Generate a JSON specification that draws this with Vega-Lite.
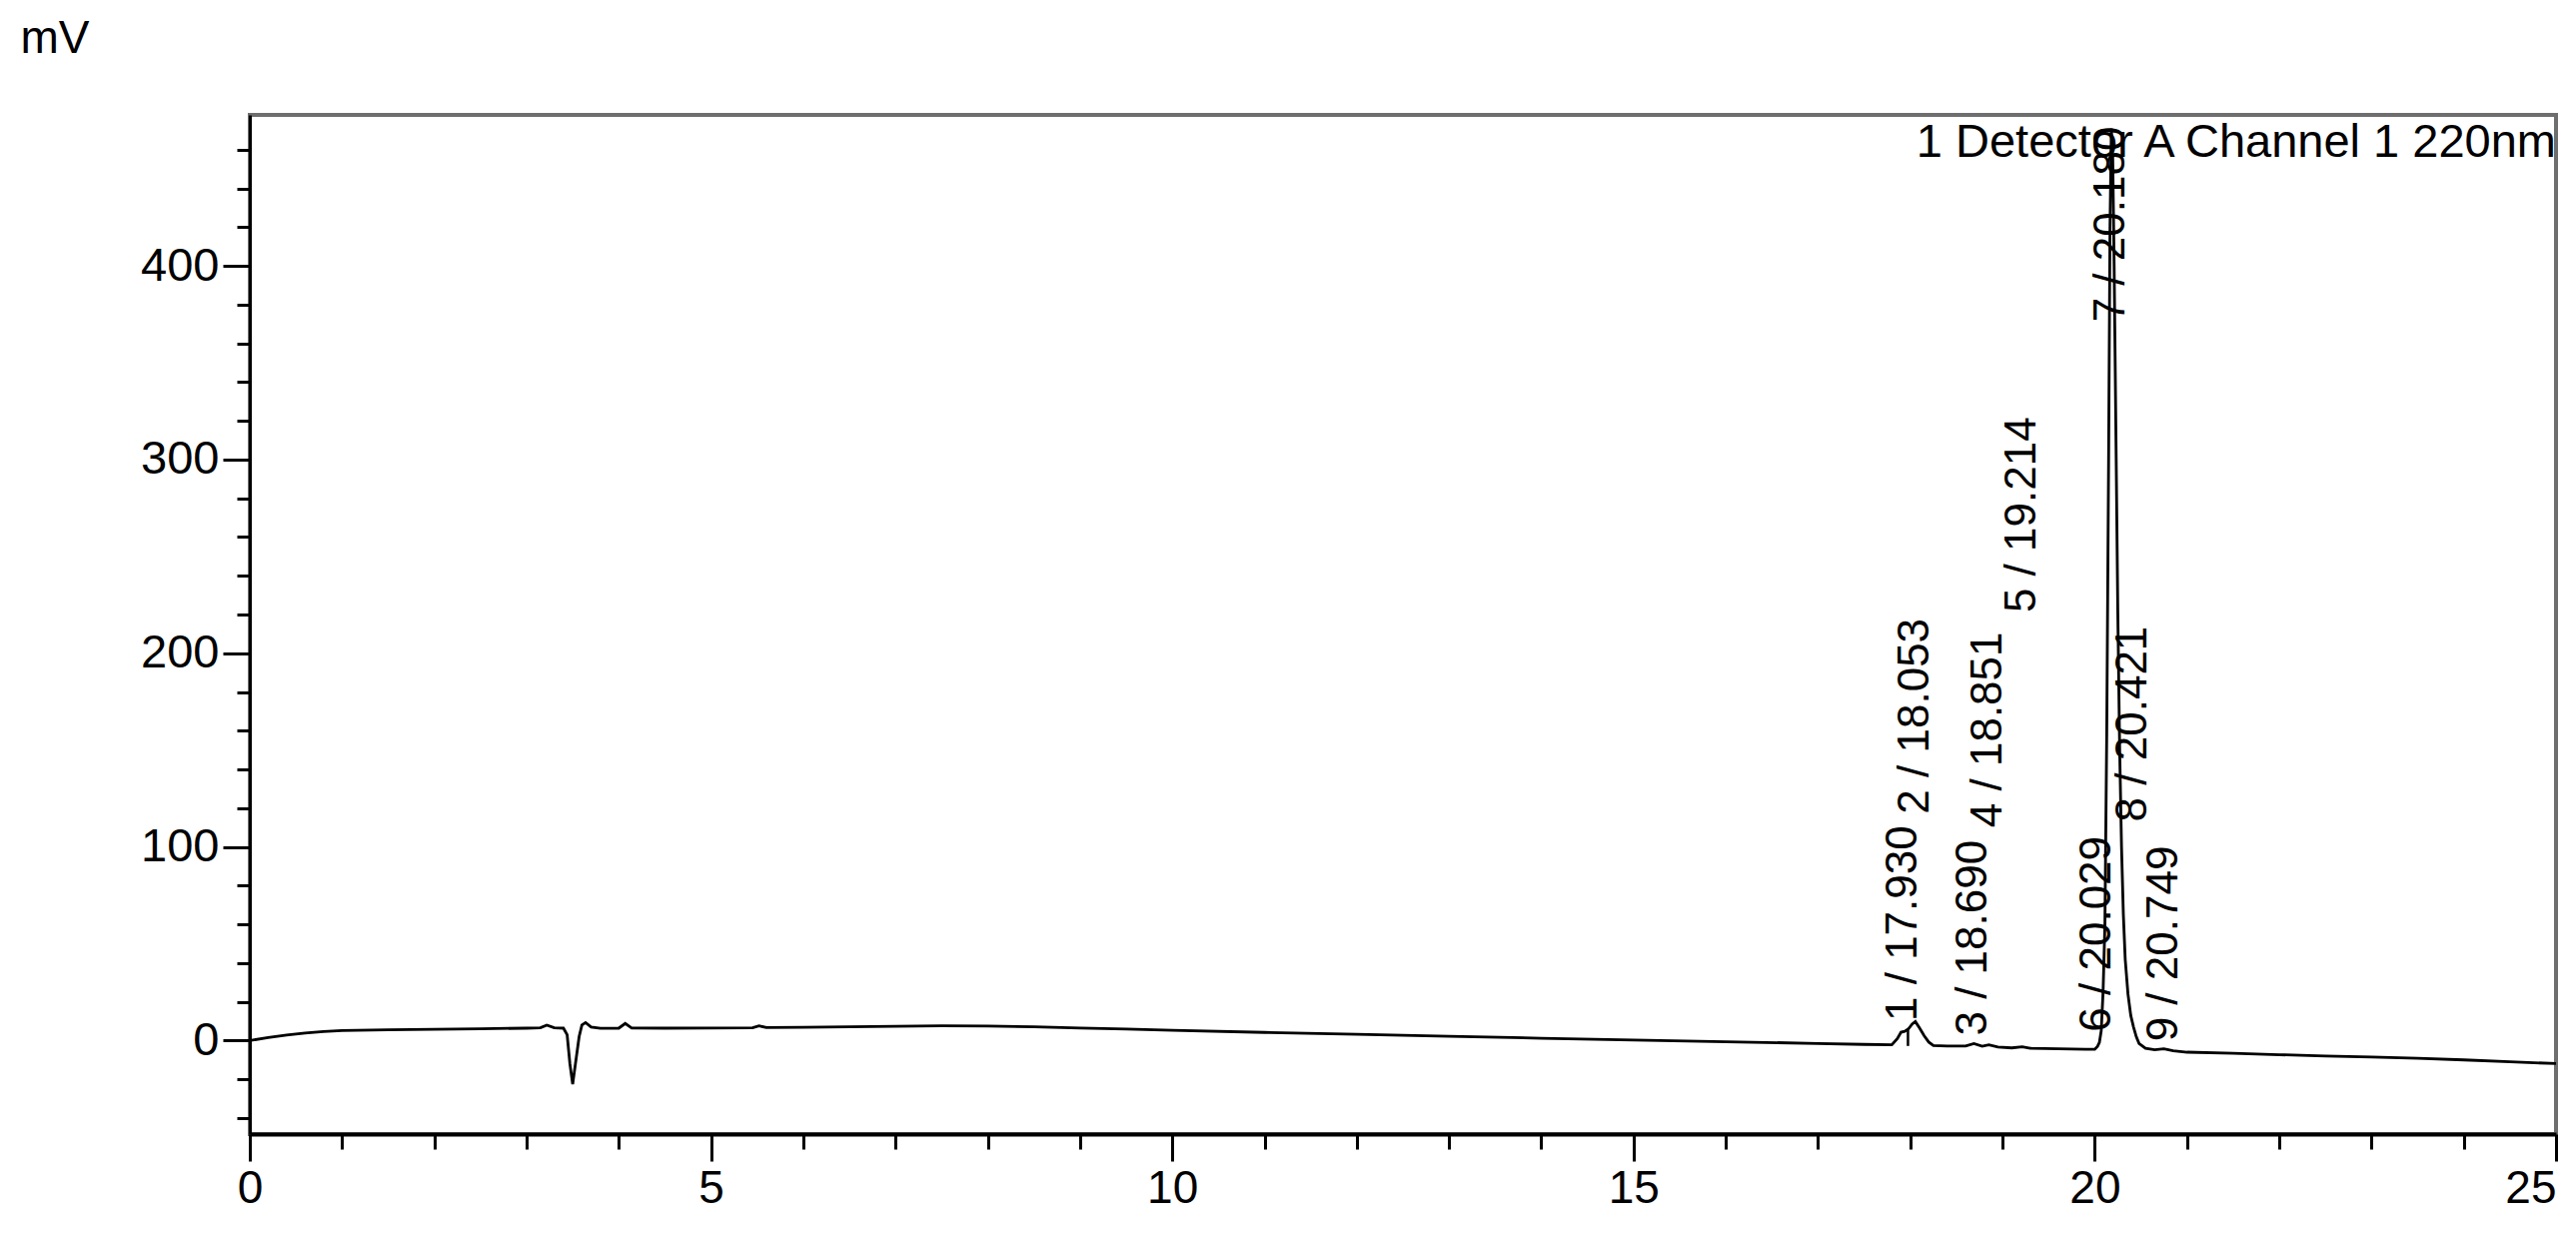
{
  "$schema": "https://vega.github.io/schema/vega-lite/v6.json",
  "width": 2308,
  "height": 1020,
  "autosize": {"type": "none"},
  "padding": {"left": 250, "top": 115, "right": 20, "bottom": 109},
  "background": "white",
  "config": {
    "view": {"stroke": "#6e6e6e", "strokeWidth": 4},
    "font": "Liberation Sans",
    "text": {"font": "Liberation Sans"}
  },
  "layer": [
    {
      "data": {
        "values": [
          {"t": 0, "mV": 0}, {"t": 0.2, "mV": 1.5}, {"t": 0.4, "mV": 2.8}, {"t": 0.6, "mV": 3.9},
          {"t": 0.8, "mV": 4.7}, {"t": 1.0, "mV": 5.2}, {"t": 1.5, "mV": 5.6}, {"t": 2.0, "mV": 5.8},
          {"t": 2.5, "mV": 6.1}, {"t": 3.0, "mV": 6.4}, {"t": 3.15, "mV": 6.6}, {"t": 3.22, "mV": 8.0},
          {"t": 3.3, "mV": 6.6}, {"t": 3.4, "mV": 6.4}, {"t": 3.44, "mV": 3}, {"t": 3.47, "mV": -12},
          {"t": 3.5, "mV": -22.5}, {"t": 3.53, "mV": -12}, {"t": 3.57, "mV": 2}, {"t": 3.6, "mV": 8},
          {"t": 3.64, "mV": 9.3}, {"t": 3.7, "mV": 7}, {"t": 3.8, "mV": 6.3}, {"t": 4.0, "mV": 6.4},
          {"t": 4.07, "mV": 8.8}, {"t": 4.14, "mV": 6.5}, {"t": 4.5, "mV": 6.4}, {"t": 5.0, "mV": 6.5},
          {"t": 5.45, "mV": 6.6}, {"t": 5.52, "mV": 7.6}, {"t": 5.6, "mV": 6.7}, {"t": 6.0, "mV": 6.8},
          {"t": 6.5, "mV": 7.1}, {"t": 7.0, "mV": 7.4}, {"t": 7.5, "mV": 7.6}, {"t": 8.0, "mV": 7.5},
          {"t": 8.5, "mV": 7.1}, {"t": 9.0, "mV": 6.5}, {"t": 9.5, "mV": 5.9}, {"t": 10.0, "mV": 5.3},
          {"t": 11.0, "mV": 4.2}, {"t": 12.0, "mV": 3.2}, {"t": 13.0, "mV": 2.2}, {"t": 14.0, "mV": 1.2},
          {"t": 15.0, "mV": 0.3}, {"t": 16.0, "mV": -0.6}, {"t": 17.0, "mV": -1.5}, {"t": 17.5, "mV": -2.0},
          {"t": 17.8, "mV": -2.2}, {"t": 17.86, "mV": 1}, {"t": 17.9, "mV": 4.3}, {"t": 17.94, "mV": 4.8},
          {"t": 17.98, "mV": 6}, {"t": 18.02, "mV": 8.5}, {"t": 18.055, "mV": 9.8}, {"t": 18.1, "mV": 6.5},
          {"t": 18.15, "mV": 2.5}, {"t": 18.2, "mV": -0.8}, {"t": 18.25, "mV": -2.6}, {"t": 18.4, "mV": -2.8},
          {"t": 18.6, "mV": -2.8}, {"t": 18.69, "mV": -1.6}, {"t": 18.78, "mV": -2.9}, {"t": 18.851, "mV": -2.2},
          {"t": 18.95, "mV": -3.4}, {"t": 19.1, "mV": -3.8}, {"t": 19.214, "mV": -3.2}, {"t": 19.3, "mV": -4.0},
          {"t": 19.6, "mV": -4.3}, {"t": 19.9, "mV": -4.5}, {"t": 20.0, "mV": -4.5}, {"t": 20.03, "mV": -3.0},
          {"t": 20.05, "mV": -1}, {"t": 20.07, "mV": 5}, {"t": 20.09, "mV": 25}, {"t": 20.11, "mV": 60},
          {"t": 20.13, "mV": 160}, {"t": 20.15, "mV": 300}, {"t": 20.165, "mV": 420}, {"t": 20.18, "mV": 471},
          {"t": 20.195, "mV": 455}, {"t": 20.21, "mV": 400}, {"t": 20.23, "mV": 310}, {"t": 20.25, "mV": 220},
          {"t": 20.27, "mV": 150}, {"t": 20.29, "mV": 100}, {"t": 20.31, "mV": 65}, {"t": 20.33, "mV": 42},
          {"t": 20.36, "mV": 24}, {"t": 20.39, "mV": 13}, {"t": 20.42, "mV": 7}, {"t": 20.45, "mV": 2},
          {"t": 20.48, "mV": -1.5}, {"t": 20.55, "mV": -4}, {"t": 20.65, "mV": -4.8}, {"t": 20.749, "mV": -4.3},
          {"t": 20.85, "mV": -5.3}, {"t": 21.0, "mV": -6.0}, {"t": 21.5, "mV": -6.6}, {"t": 22.0, "mV": -7.3},
          {"t": 22.5, "mV": -8.0}, {"t": 23.0, "mV": -8.5}, {"t": 23.5, "mV": -9.2}, {"t": 24.0, "mV": -10.0},
          {"t": 24.5, "mV": -11.0}, {"t": 25.0, "mV": -11.9}
        ]
      },
      "mark": {"type": "line", "color": "black", "strokeWidth": 2.8, "clip": true},
      "encoding": {
        "x": {
          "field": "t", "type": "quantitative",
          "scale": {"domain": [0, 25], "nice": false, "zero": false},
          "axis": {
            "title": null, "grid": false, "format": "d",
            "values": [0,1,2,3,4,5,6,7,8,9,10,11,12,13,14,15,16,17,18,19,20,21,22,23,24,25],
            "labelExpr": "datum.value % 5 === 0 ? datum.label : ''",
            "tickSize": {"condition": {"test": "datum.value % 5 === 0", "value": 27}, "value": 15},
            "labelPadding": 5,
            "labelAlign": {"condition": {"test": "datum.value === 25", "value": "right"}, "value": "center"},
            "labelFlush": false, "labelOverlap": false,
            "labelFontSize": 46, "labelColor": "black", "labelFont": "Liberation Sans",
            "domainColor": "black", "domainWidth": 4, "tickColor": "black", "tickWidth": 3
          }
        },
        "y": {
          "field": "mV", "type": "quantitative",
          "scale": {"domain": [-48.3, 478], "nice": false, "zero": false},
          "axis": {
            "title": "mV", "titleAngle": 0, "titleAlign": "left", "titleBaseline": "alphabetic",
            "titleX": -230, "titleY": -63, "titleFontSize": 46, "titleFontWeight": "normal",
            "titleColor": "black", "titleFont": "Liberation Sans",
            "grid": false,
            "values": [-40,-20,0,20,40,60,80,100,120,140,160,180,200,220,240,260,280,300,320,340,360,380,400,420,440,460],
            "labelExpr": "datum.value % 100 === 0 ? datum.label : ''",
            "tickSize": {"condition": {"test": "datum.value % 100 === 0", "value": 27}, "value": 13},
            "labelPadding": 4,
            "labelOverlap": false, "labelFlush": false,
            "labelFontSize": 47, "labelColor": "black", "labelFont": "Liberation Sans",
            "domainColor": "black", "domainWidth": 3, "tickColor": "black", "tickWidth": 3
          }
        }
      }
    },
    {
      "data": {"values": [{"t": 17.975, "lo": -2.8, "hi": 5.6}]},
      "mark": {"type": "rule", "color": "black", "strokeWidth": 2.5},
      "encoding": {
        "x": {"field": "t", "type": "quantitative"},
        "y": {"field": "lo", "type": "quantitative"},
        "y2": {"field": "hi"}
      }
    },
    {
      "data": {
        "values": [
          {"label": "1 / 17.930", "rt": 17.93, "ly": 10},
          {"label": "2 / 18.053", "rt": 18.053, "ly": 117},
          {"label": "3 / 18.690", "rt": 18.69, "ly": 2.5},
          {"label": "4 / 18.851", "rt": 18.851, "ly": 110},
          {"label": "5 / 19.214", "rt": 19.214, "ly": 221},
          {"label": "6 / 20.029", "rt": 20.029, "ly": 4.5},
          {"label": "7 / 20.180", "rt": 20.18, "ly": 371},
          {"label": "8 / 20.421", "rt": 20.421, "ly": 113},
          {"label": "9 / 20.749", "rt": 20.749, "ly": -0.5}
        ]
      },
      "mark": {"type": "text", "angle": 270, "align": "left", "baseline": "middle", "fontSize": 44, "color": "black", "font": "Liberation Sans"},
      "encoding": {
        "x": {"field": "rt", "type": "quantitative"},
        "y": {"field": "ly", "type": "quantitative"},
        "text": {"field": "label"}
      }
    },
    {
      "data": {"values": [{"name": "1 Detector A Channel 1 220nm", "t": 25, "v": 478}]},
      "mark": {"type": "text", "align": "right", "baseline": "alphabetic", "dy": 42, "fontSize": 47, "color": "black", "font": "Liberation Sans"},
      "encoding": {
        "x": {"field": "t", "type": "quantitative"},
        "y": {"field": "v", "type": "quantitative"},
        "text": {"field": "name"}
      }
    }
  ]
}
